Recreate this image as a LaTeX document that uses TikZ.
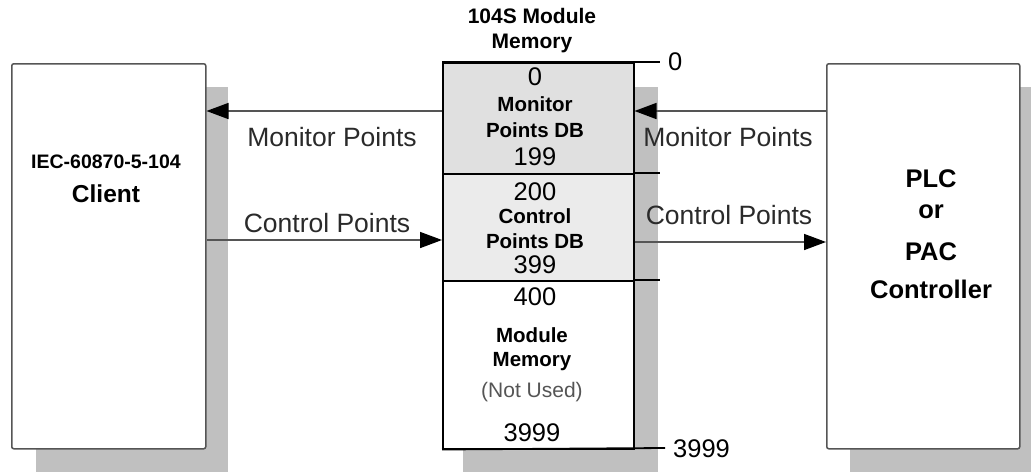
\documentclass[tikz,border=0pt]{standalone}
\usepackage{fontspec}
\setmainfont{Liberation Sans}
\usetikzlibrary{arrows.meta,calc}
\definecolor{shadowc}{HTML}{C0C0C0}
\definecolor{boxline}{HTML}{555555}
\definecolor{monfill}{HTML}{E0E0E0}
\definecolor{ctlfill}{HTML}{EBEBEB}
\definecolor{txtgray}{HTML}{2A2A2A}
\tikzset{
  bigbox/.style={draw=boxline, line width=1.5pt, fill=white, rounded corners=2pt, anchor=north west, inner sep=0pt},
  memsec/.style={draw=black, line width=1.5pt, anchor=north west, inner sep=0pt, minimum width=191pt},
  arr/.style={draw=boxline, line width=1.6pt, -{Triangle[length=22pt,width=16pt,fill=black,color=black]}},
  lbl/.style={font=\fontsize{26.5}{29}\selectfont, text=txtgray, inner sep=0pt},
  memb/.style={font=\bfseries\fontsize{20.5}{23}\selectfont, inner sep=0pt},
  memn/.style={font=\fontsize{25.5}{28}\selectfont, inner sep=0pt},
  tick/.style={draw=black, line width=1.8pt},
}
\begin{document}
\begin{tikzpicture}[x=1pt,y=-1pt]
\useasboundingbox (0,0) rectangle (1031,472);
% shadows
\fill[shadowc] (36,87) rectangle (228,472);
\fill[shadowc] (463,87) rectangle (658,472);
\fill[shadowc] (850,87) rectangle (1031,472);
% main boxes
\node[bigbox, minimum width=194pt, minimum height=385pt] (client) at (11,63) {};
\node[bigbox, minimum width=193pt, minimum height=385pt] (plc) at (826,63) {};
% memory sections
\node[memsec, fill=monfill, minimum height=111pt] (mon) at (442,62) {};
\node[memsec, fill=ctlfill, minimum height=107pt] (ctl) at (442,173) {};
\node[memsec, fill=white, minimum height=168pt] (mem) at (442,280) {};
% ticks to the right
\coordinate (t0) at (660,62);
\coordinate (t1) at (660,173);
\coordinate (t2) at (660,280);
\coordinate (t3) at (665,448);
\draw[tick] (mon.north west) -- (t0);
\draw[tick] (ctl.north east) -- (t1);
\draw[tick] (mem.north east) -- (t2);
\draw[tick] (mem.south west) -- (t3);
\node[memn, anchor=west] (z0) at (668,62) {0};
\node[memn, anchor=west] (z3) at (673,449) {3999};
% title
\node[font=\bfseries\fontsize{21}{25}\selectfont, align=center, inner sep=0pt] (title) at (532,31) {104S Module\\Memory};
% memory texts
\node[memn] (m0) at (535,77) {0};
\node[memb] (m1) at (535,104) {Monitor};
\node[memb] (m2) at (535,130) {Points DB};
\node[memn] (m3) at (535,157) {199};
\node[memn] (c0) at (535,192) {200};
\node[memb] (c1) at (535,216) {Control};
\node[memb] (c2) at (535,241) {Points DB};
\node[memn] (c3) at (535,265) {399};
\node[memn] (r0) at (535,297) {400};
\node[memb] (r1) at (532,335) {Module};
\node[memb] (r2) at (532,362) {Memory};
\node[font=\fontsize{21}{24}\selectfont, text=txtgray!80, inner sep=0pt] (r3) at (532,392) {(Not Used)};
\node[memn] (r4) at (532,433) {3999};
% client text
\node[font=\bfseries\fontsize{19.5}{22}\selectfont, inner sep=0pt] (cl1) at (106,162) {IEC-60870-5-104};
\node[font=\bfseries\fontsize{24.5}{26}\selectfont, inner sep=0pt] (cl2) at (106,194) {Client};
% plc text
\node[font=\bfseries\fontsize{25.5}{26}\selectfont, inner sep=0pt] (p1) at (931,179) {PLC};
\node[font=\bfseries\fontsize{25.5}{26}\selectfont, inner sep=0pt] (p2) at (931,212) {or};
\node[font=\bfseries\fontsize{25.5}{26}\selectfont, inner sep=0pt] (p3) at (931,252) {PAC};
\node[font=\bfseries\fontsize{25.5}{26}\selectfont, inner sep=0pt] (p4) at (931,289) {Controller};
% arrows
\draw[arr] (mon.west |- 0,111) -- (client.east |- 0,111);
\draw[arr] (client.east |- 0,240) -- (ctl.west |- 0,240);
\draw[arr] (plc.west |- 0,111) -- (mon.east |- 0,111);
\draw[arr] (ctl.east |- 0,242) -- (plc.west |- 0,242);
% arrow labels
\node[lbl] (lm) at (332,137) {Monitor Points};
\node[lbl] (lc) at (327,223) {Control Points};
\node[lbl] (rm) at (728,137) {Monitor Points};
\node[lbl] (rc) at (729,215) {Control Points};
\end{tikzpicture}
\end{document}
